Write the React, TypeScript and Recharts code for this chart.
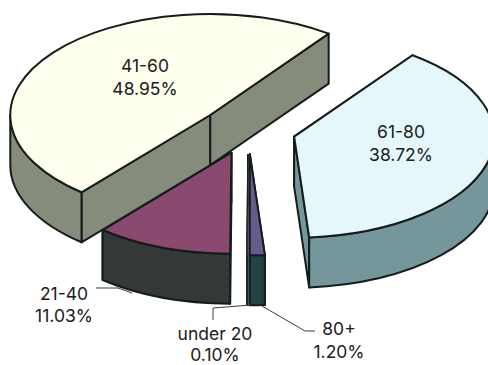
import React from "react";
import { PieChart, Pie } from "recharts";

// Age bands and their shares of the total, clockwise from the right-hand slice.
const ageBands = ["61-80", "80+", "under 20", "21-40", "41-60"];
const shares = [38.72, 1.2, 0.1, 11.03, 48.95];
const shareLabels = ["38.72%", "1.20%", "0.10%", "11.03%", "48.95%"];

const chartData = ageBands.map((name, i) => ({ name, value: shares[i], share: shareLabels[i] }));

const topColors: Record<string, string> = {
  "61-80": "#e5f7fb",
  "80+": "#665c8c",
  "under 20": "#665c8c",
  "21-40": "#8a4a70",
  "41-60": "#fffff0",
};
const sideColors: Record<string, string> = {
  "61-80": "#75979c",
  "80+": "#234340",
  "under 20": "#234340",
  "21-40": "#343836",
  "41-60": "#858c7c",
};

// Projection of the tilted disc.
const SQUASH = 0.505;
const DEPTH = 50;
const EXPLODE = 48;
const OUTLINE = "#141c1c";
const RAD = Math.PI / 180;

function Slice3D(props: any) {
  const { cx, cy, outerRadius: r, startAngle: s, endAngle: e, name } = props;
  const mid = (s + e) / 2;
  const ax = cx + EXPLODE * Math.cos(mid * RAD);
  const ay = cy - EXPLODE * SQUASH * Math.sin(mid * RAD);
  const rim = (t: number): [number, number] => [
    ax + r * Math.cos(t * RAD),
    ay - r * SQUASH * Math.sin(t * RAD),
  ];
  const [sx, sy] = rim(s);
  const [ex, ey] = rim(e);
  const large = s - e > 180 ? 1 : 0;
  const top = `M ${ax} ${ay} L ${sx} ${sy} A ${r} ${r * SQUASH} 0 ${large} 1 ${ex} ${ey} Z`;
  const face = (t: number) => {
    const [x, y] = rim(t);
    return `M ${ax} ${ay} L ${x} ${y} L ${x} ${y + DEPTH} L ${ax} ${ay + DEPTH} Z`;
  };

  // Only the near half of the rim shows below the top face.
  const hi = Math.min(s, 0);
  const lo = Math.max(e, -180);
  let wall = "";
  if (hi > lo) {
    const [hx, hy] = rim(hi);
    const [lx, ly] = rim(lo);
    wall =
      `M ${hx} ${hy} A ${r} ${r * SQUASH} 0 0 1 ${lx} ${ly} ` +
      `L ${lx} ${ly + DEPTH} A ${r} ${r * SQUASH} 0 0 0 ${hx} ${hy + DEPTH} Z`;
  }
  const side = sideColors[name];
  // A sliver narrower than a degree would vanish under a full-weight outline.
  const weight = s - e < 1 ? 0.8 : 2;
  const stroke = { stroke: OUTLINE, strokeWidth: weight, strokeLinejoin: "round" as const };
  return (
    <g>
      <path d={face(s)} fill={side} {...stroke} />
      <path d={face(e)} fill={side} {...stroke} />
      {wall && <path d={wall} fill={side} {...stroke} />}
      <path d={top} fill={topColors[name]} {...stroke} />
    </g>
  );
}

// Text anchors and leader lines for each band.
const labelSpots: Record<string, { x: number; y: number; gap: number; leader?: string }> = {
  "41-60": { x: 145, y: 72, gap: 23 },
  "61-80": { x: 401, y: 138, gap: 23 },
  "21-40": { x: 64, y: 300, gap: 22, leader: "96,288 118,288 132,293" },
  "under 20": { x: 215, y: 339.5, gap: 21, leader: "213,320 213,308 251,305" },
  "80+": { x: 339, y: 335, gap: 23, leader: "262,306 305,331 315,331" },
};

function SliceLabel(props: any) {
  const { name } = props;
  const spot = labelSpots[name];
  const share = props.share ?? props.payload?.share;
  return (
    <g>
      {spot.leader && <polyline points={spot.leader} fill="none" stroke="#3c3c3c" strokeWidth={1} />}
      <text
        x={spot.x}
        textAnchor="middle"
        fontFamily="Inter, sans-serif"
        fontSize={17.5}
        fill="#202020"
      >
        <tspan x={spot.x} y={spot.y}>{name}</tspan>
        <tspan x={spot.x} y={spot.y + spot.gap}>{share}</tspan>
      </text>
    </g>
  );
}

export default function App() {
  return (
    <div style={{ position: "fixed", left: 0, top: 0, width: 488, height: 365, background: "#fff" }}>
      <style>{"html,body{margin:0;padding:0}"}</style>
      <PieChart width={488} height={365} margin={{ top: 0, right: 0, bottom: 0, left: 0 }}>
        <Pie
          data={chartData}
          dataKey="value"
          nameKey="name"
          cx={248}
          cy={130}
          innerRadius={0}
          outerRadius={200}
          startAngle={53.7}
          endAngle={-306.3}
          paddingAngle={0}
          stroke="none"
          shape={Slice3D}
          label={SliceLabel}
          labelLine={false}
          isAnimationActive={false}
        />
      </PieChart>
    </div>
  );
}
